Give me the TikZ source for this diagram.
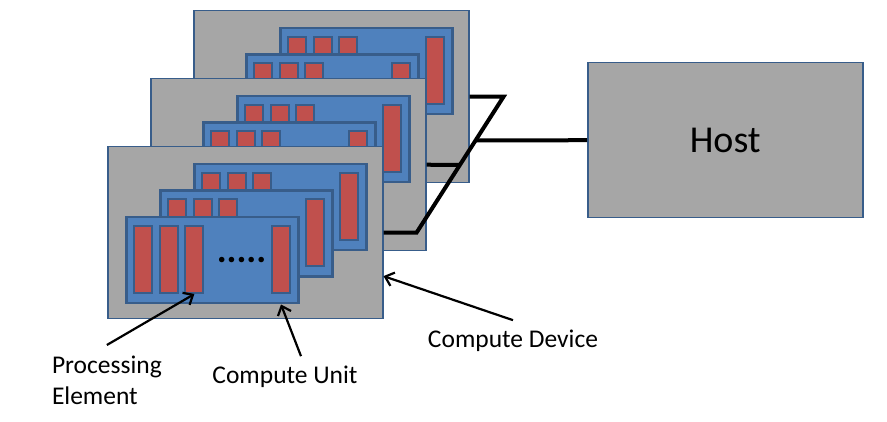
\documentclass[tikz,border=0pt]{standalone}
\usepackage{fontspec}
\setmainfont{Carlito}
\usetikzlibrary{arrows.meta,calc}

\definecolor{devgray}{HTML}{A6A6A6}
\definecolor{edgeblue}{HTML}{385D8A}
\definecolor{cublue}{HTML}{4F81BD}
\definecolor{pered}{HTML}{C0504D}

\tikzset{
  dev/.style={draw=edgeblue,fill=devgray,line width=1.5pt,anchor=north west,inner sep=0pt,minimum width=275pt,minimum height=172pt},
  cu/.style={draw=edgeblue,fill=cublue,line width=2.5pt,anchor=north west,inner sep=0pt,minimum width=172pt,minimum height=86pt},
  pe/.style={draw=edgeblue,fill=pered,line width=2pt,anchor=north west,inner sep=0pt,minimum width=18pt,minimum height=67pt},
  wire/.style={line width=4pt,line join=miter},
  pointer/.style={line width=2.2pt,-{Straight Barb[length=8pt,width=14pt]}},
  lbl/.style={font=\fontsize{25.5}{31}\selectfont,inner sep=0pt,outer sep=10pt}
}

\begin{document}
\begin{tikzpicture}[x=1pt,y=-1pt]
\useasboundingbox (0,0) rectangle (887,422);

% devices, back to front
\foreach \i in {1,2,3}{
  \node[dev] (dev\i) at ({193-43*(\i-1)},{10+68*(\i-1)}) {};
  \foreach \j in {1,2,3}{
    \node[cu] (cu\i\j) at ($(dev\i.north west)+({18+34*(3-\j)},{70-26.5*(3-\j)})$) {};
    \foreach \k in {1,2,3}
      \node[pe] (pe\i\j\k) at ($(cu\i\j.north west)+({8+25.7*(\k-1)},9)$) {};
    \node[pe] (pe\i\j4) at ($(cu\i\j.north west)+(146,9)$) {};
  }
}
\node[font=\bfseries\fontsize{37}{37}\selectfont,anchor=base,inner sep=0pt] (dots) at (241.5,263) {.....};

\node[dev,minimum height=155pt,font=\fontsize{38}{46}\selectfont] (host) at (587,62) {Host};

% bus
\coordinate (busTop) at ($(dev1.east)+(34,0)$);
\coordinate (busBot) at ($(dev3.east)+(33,0)$);
\coordinate (midRef) at ($(dev2.east)+(100,0)$);
\coordinate (hostRef) at ($(host.west)+(-150,0)$);
\draw[wire] (dev3.east) -- (busBot) -- (busTop) -- (dev1.east);
\draw[wire] (dev2.east) -- (intersection of busBot--busTop and dev2.east--midRef);
\draw[wire] (host.west) -- (intersection of busBot--busTop and host.west--hostRef);

\node[lbl] (lblCD) at (513,341) {Compute Device};
\node[lbl] (lblCU) at (285,377) {Compute Unit};
\node[lbl,align=left,anchor=north west,outer sep=0pt] (lblPE) at (52,356) {Processing\\Element};

\draw[pointer] ($(lblPE.north)+(0,-11)$) -- (pe333.south);
\draw[pointer] ($(lblCU.north)+(16,0)$) -- (pe334.south |- cu33.south);
\draw[pointer] (lblCD.north) -- ($(dev3.east)!0.5!(dev3.south east)$);
\end{tikzpicture}
\end{document}
